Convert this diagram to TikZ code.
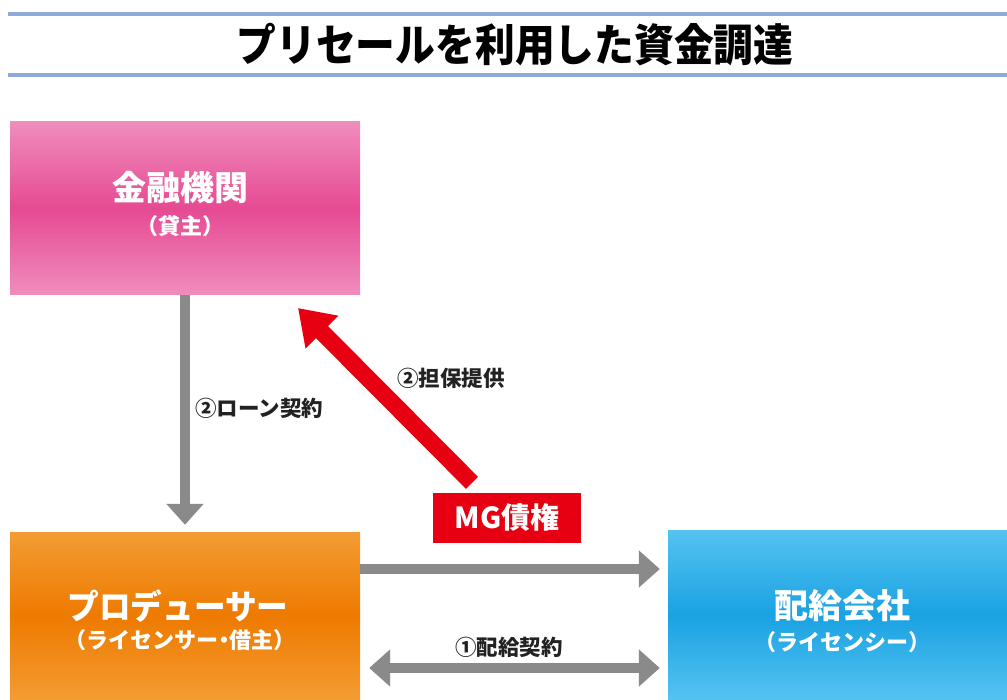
\documentclass[tikz,border=0pt]{standalone}
\usepackage{fontspec}
\setmainfont{Noto Sans CJK JP}
\usetikzlibrary{arrows.meta,calc}
\definecolor{rulecol}{HTML}{8FAAD6}
\definecolor{pinkL}{HTML}{EF8DBD}
\definecolor{pinkD}{HTML}{E64A92}
\definecolor{oraL}{HTML}{F39C33}
\definecolor{oraD}{HTML}{EE7A00}
\definecolor{bluL}{HTML}{55C3F1}
\definecolor{bluD}{HTML}{1AA2E2}
\definecolor{arrgray}{HTML}{8A8A8A}
\definecolor{mgred}{HTML}{E60012}
\definecolor{labcol}{HTML}{222222}
\tikzset{
  box/.style={minimum width=350pt, inner sep=0pt, align=center, text=white, font=\bfseries},
  boxtitle/.style={font=\fontsize{34}{36}\selectfont\bfseries},
  boxsub/.style={text=white, font=\fontsize{22}{24}\selectfont\bfseries},
  grayarrow/.style={draw=arrgray, line width=10pt, -{Triangle[width=36pt,length=21pt]}},
  grayarrowboth/.style={draw=arrgray, line width=10pt, {Triangle[width=36pt,length=21pt]}-{Triangle[width=36pt,length=21pt]}},
  redarrow/.style={draw=mgred, line width=17pt, -{Triangle[width=44pt,length=34pt]}},
  lab/.style={text=labcol, font=\fontsize{21.5}{24}\selectfont\bfseries, inner sep=0pt},
  titlerule/.style={draw=rulecol, line width=4pt}
}
\begin{document}
\begin{tikzpicture}[x=1pt,y=-1pt]
\useasboundingbox (0,0) rectangle (1007,700);
% title rules
\coordinate (r1a) at (8,14); \coordinate (r1b) at (1007,14);
\coordinate (r2a) at (8,75); \coordinate (r2b) at (1007,75);
\draw[titlerule] (r1a) -- (r1b);
\draw[titlerule] (r2a) -- (r2b);
\node[font=\fontsize{41}{44}\selectfont\bfseries, text=black] (title) at (515,45) {\scalebox{0.97}[1.08]{プリセールを利用した資金調達}};
% boxes
\node[box, minimum height=173pt, top color=pinkL, bottom color=pinkL, middle color=pinkD] (fin) at (185,208.5) {};
\node[boxtitle, text=white] (finT) at (180,188) {金融機関};
\node[boxsub] (finS) at (180,226) {（貸主）};
\node[box, minimum height=168pt, top color=oraL, bottom color=oraL, middle color=oraD] (prod) at (185,616) {};
\node[boxtitle, text=white] (prodT) at (178,606) {\scalebox{0.93}[1]{プロデューサー}};
\node[boxsub] (prodS) at (180,640) {（ライセンサー\kern-0.25em・\kern-0.25em借主）};
\node[minimum width=339pt, minimum height=170pt, inner sep=0pt, top color=bluL, bottom color=bluL, middle color=bluD] (dist) at (837.5,615) {};
\node[boxtitle, text=white] (distT) at (842,606) {配給会社};
\node[boxsub] (distS) at (842,642) {（ライセンシー）};
% MG box
\node[fill=mgred, minimum width=148pt, minimum height=50pt, inner sep=0pt, text=white, font=\fontsize{29}{32}\selectfont\bfseries] (mg) at (507,518) {MG債権};
% arrows
\draw[grayarrow, shorten >=7pt] (fin.south) -- (prod.north);
\node[lab, anchor=west] (loan) at (195,408) {②ローン契約};
\coordinate (redtip) at (298,308);
\draw[redarrow, shorten <=14pt] (mg) -- (redtip);
\node[lab, anchor=west] (coll) at (397,378) {②担保提供};
\draw[grayarrow, shorten >=8pt] ([yshift=47pt]prod.east) -- ([yshift=47pt]prod.east -| dist.west);
\draw[grayarrowboth, shorten >=8pt, shorten <=9pt] ([yshift=-52pt]prod.east) -- ([yshift=-52pt]prod.east -| dist.west);
\node[lab] (dcon) at (509,647) {①配給契約};
\end{tikzpicture}
\end{document}
